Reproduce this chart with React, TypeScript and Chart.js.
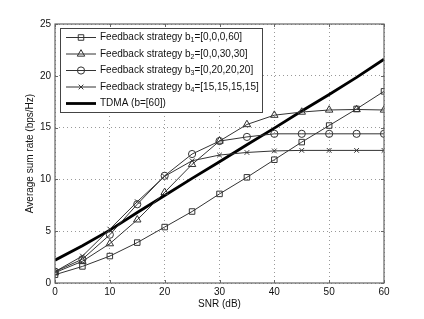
import React, { useEffect, useRef } from 'react';
import { Chart, registerables } from 'chart.js';

Chart.register(...registerables);

const snr = [0, 5, 10, 15, 20, 25, 30, 35, 40, 45, 50, 55, 60];
const b1Rate = [0.8, 1.6, 2.6, 3.9, 5.4, 6.9, 8.6, 10.2, 11.9, 13.6, 15.2, 16.8, 18.5];
const b2Rate = [1.0, 2.1, 3.8, 6.1, 8.75, 11.45, 13.7, 15.3, 16.2, 16.5, 16.7, 16.75, 16.7];
const b3Rate = [1.1, 2.3, 4.66, 7.6, 10.35, 12.45, 13.7, 14.1, 14.4, 14.4, 14.4, 14.4, 14.4];
const b4Rate = [1.1, 2.6, 5.2, 7.85, 10.3, 11.8, 12.35, 12.6, 12.75, 12.8, 12.8, 12.8, 12.8];
const tdmaRate = [2.2, 3.6, 5.1, 6.8, 8.45, 10.1, 11.7, 13.35, 14.95, 16.6, 18.2, 19.85, 21.6];

const seriesLabels = [
  'Feedback strategy b₁=[0,0,0,60]',
  'Feedback strategy b₂=[0,0,30,30]',
  'Feedback strategy b₃=[0,20,20,20]',
  'Feedback strategy b₄=[15,15,15,15]',
  'TDMA (b=[60])',
];
const xTicks = [0, 10, 20, 30, 40, 50, 60];
const yTicks = [0, 5, 10, 15, 20, 25];
const xTitle = 'SNR (dB)';
const yTitle = 'Average sum rate (bps/Hz)';

const FONT = "'Liberation Sans', Arial, Helvetica, sans-serif";
const LINE = '#333';
const FRAME = '#666';

const markers: { style: string; r: number }[] = [
  { style: 'rect', r: 3.9 },
  { style: 'triangle', r: 4.3 },
  { style: 'circle', r: 3.6 },
  { style: 'crossRot', r: 3.3 },
];

function drawMarker(ctx: CanvasRenderingContext2D, style: string, x: number, y: number, r: number) {
  ctx.beginPath();
  if (style === 'rect') {
    const s = r * Math.SQRT1_2;
    ctx.rect(x - s, y - s, 2 * s, 2 * s);
  } else if (style === 'triangle') {
    let rad = 0;
    ctx.moveTo(x + Math.sin(rad) * r, y - Math.cos(rad) * r);
    rad += (2 * Math.PI) / 3;
    ctx.lineTo(x + Math.sin(rad) * r, y - Math.cos(rad) * r);
    rad += (2 * Math.PI) / 3;
    ctx.lineTo(x + Math.sin(rad) * r, y - Math.cos(rad) * r);
    ctx.closePath();
  } else if (style === 'circle') {
    ctx.arc(x, y, r, 0, Math.PI * 2);
  } else if (style === 'crossRot') {
    const d = r * Math.SQRT1_2;
    ctx.moveTo(x - d, y - d);
    ctx.lineTo(x + d, y + d);
    ctx.moveTo(x - d, y + d);
    ctx.lineTo(x + d, y - d);
  }
  ctx.stroke();
}

const subMap: Record<string, string> = { '₁': '1', '₂': '2', '₃': '3', '₄': '4' };

function drawRichLabel(ctx: CanvasRenderingContext2D, text: string, x: number, y: number) {
  const parts = text.split(/([₁₂₃₄])/);
  let cx = x;
  for (const p of parts) {
    if (!p) continue;
    if (subMap[p]) {
      ctx.font = `7px ${FONT}`;
      ctx.fillText(subMap[p], cx, y + 3);
      cx += ctx.measureText(subMap[p]).width;
    } else {
      ctx.font = `10px ${FONT}`;
      ctx.fillText(p, cx, y);
      cx += ctx.measureText(p).width;
    }
  }
}

const framePlugin = {
  id: 'matlabFrame',
  afterDraw(chart: any) {
    const { ctx, chartArea: a, scales } = chart;
    ctx.save();
    // inner ticks
    ctx.strokeStyle = FRAME;
    ctx.lineWidth = 1;
    ctx.setLineDash([]);
    ctx.beginPath();
    for (const v of xTicks) {
      const px = Math.round(scales.x.getPixelForValue(v)) + 0.5;
      ctx.moveTo(px, a.bottom);
      ctx.lineTo(px, a.bottom - 3);
      ctx.moveTo(px, a.top);
      ctx.lineTo(px, a.top + 3);
    }
    for (const v of yTicks) {
      const py = Math.round(scales.y.getPixelForValue(v)) + 0.5;
      ctx.moveTo(a.left, py);
      ctx.lineTo(a.left + 3, py);
      ctx.moveTo(a.right, py);
      ctx.lineTo(a.right - 3, py);
    }
    ctx.stroke();
    // frame
    ctx.strokeStyle = FRAME;
    ctx.lineWidth = 1.2;
    ctx.strokeRect(a.left, a.top, a.right - a.left, a.bottom - a.top);

    // legend
    const bx = 60, by = 28, bw = 202, bh = 84;
    ctx.fillStyle = '#fff';
    ctx.fillRect(bx, by, bw, bh);
    ctx.strokeStyle = '#444';
    ctx.lineWidth = 1;
    ctx.strokeRect(bx + 0.5, by + 0.5, bw, bh);
    chart.data.datasets.forEach((ds: any, i: number) => {
      const y = 37.5 + i * 16.5;
      ctx.setLineDash([]);
      if (i < 4) {
        ctx.strokeStyle = LINE;
        ctx.lineWidth = 1;
        ctx.beginPath();
        ctx.moveTo(66, y);
        ctx.lineTo(96, y);
        ctx.stroke();
        drawMarker(ctx, markers[i].style, 81, y, markers[i].r);
      } else {
        ctx.strokeStyle = '#000';
        ctx.lineWidth = 2.8;
        ctx.beginPath();
        ctx.moveTo(66, y);
        ctx.lineTo(96, y);
        ctx.stroke();
      }
      ctx.fillStyle = '#111';
      ctx.textBaseline = 'middle';
      ctx.textAlign = 'left';
      drawRichLabel(ctx, ds.label, 100, y);
    });
    ctx.restore();
  },
};

export default function App() {
  const ref = useRef<HTMLCanvasElement | null>(null);
  useEffect(() => {
    if (!ref.current) return;
    const series = [b1Rate, b2Rate, b3Rate, b4Rate];
    const datasets: any[] = series.map((arr, i) => ({
      label: seriesLabels[i],
      data: snr.map((x, j) => ({ x, y: arr[j] })),
      borderColor: LINE,
      borderWidth: 1,
      pointStyle: markers[i].style,
      pointRadius: markers[i].r,
      pointBorderColor: LINE,
      pointBackgroundColor: 'rgba(0,0,0,0)',
      pointBorderWidth: 1,
      tension: 0,
    }));
    datasets.push({
      label: seriesLabels[4],
      data: snr.map((x, j) => ({ x, y: tdmaRate[j] })),
      borderColor: '#000',
      borderWidth: 2.8,
      pointRadius: 0,
      tension: 0,
    });
    const chart = new Chart(ref.current, {
      type: 'line',
      data: { datasets },
      options: {
        animation: false,
        responsive: false,
        layout: { padding: { left: 0, right: 40, top: 24, bottom: 0 } },
        plugins: { legend: { display: false }, tooltip: { enabled: false } },
        scales: {
          x: {
            type: 'linear',
            min: 0,
            max: 60,
            afterBuildTicks: (s: any) => {
              s.ticks = xTicks.map((v) => ({ value: v }));
            },
            afterFit: (s: any) => {
              s.height = 36;
            },
            ticks: { color: '#111', font: { family: FONT, size: 10 }, padding: 3, maxRotation: 0 },
            grid: { color: '#999', lineWidth: 1, drawTicks: false, borderDash: [1, 3] } as any,
            border: { display: false, dash: [1, 3] },
            title: { display: true, text: xTitle, color: '#111', font: { family: FONT, size: 10 }, padding: { top: 0, bottom: 9 } },
          },
          y: {
            type: 'linear',
            min: 0,
            max: 25,
            afterBuildTicks: (s: any) => {
              s.ticks = yTicks.map((v) => ({ value: v }));
            },
            afterFit: (s: any) => {
              s.width = 55;
            },
            ticks: { color: '#111', font: { family: FONT, size: 10 }, padding: 4 },
            grid: { color: '#999', lineWidth: 1, drawTicks: false, borderDash: [1, 3] } as any,
            border: { display: false, dash: [1, 3] },
            title: { display: true, text: yTitle, color: '#111', font: { family: FONT, size: 10 }, padding: { top: 24, bottom: 0 } },
          },
        },
      },
      plugins: [framePlugin],
    });
    return () => chart.destroy();
  }, []);
  return (
    <div style={{ position: 'absolute', left: 0, top: 0, width: 424, height: 319, background: '#fff' }}>
      <canvas ref={ref} width={424} height={319} style={{ display: 'block' }} />
    </div>
  );
}
